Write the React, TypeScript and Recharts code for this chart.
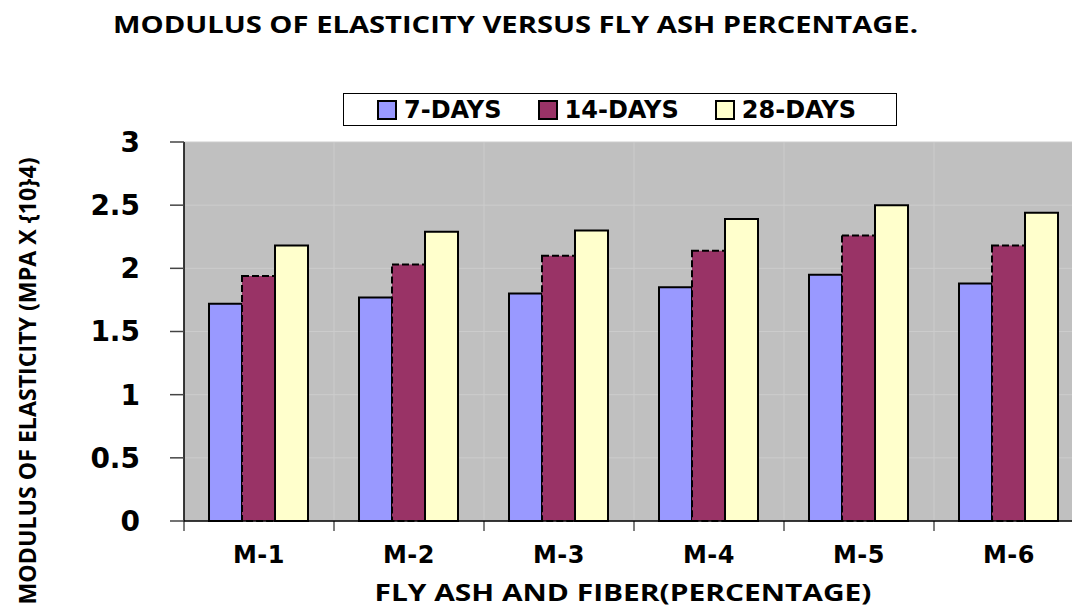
import React from 'react';
import { BarChart, Bar, XAxis, YAxis, CartesianGrid } from 'recharts';

const categories = ['M-1', 'M-2', 'M-3', 'M-4', 'M-5', 'M-6'];
const days7 = [1.72, 1.77, 1.8, 1.85, 1.95, 1.88];
const days14 = [1.94, 2.03, 2.1, 2.14, 2.26, 2.18];
const days28 = [2.18, 2.29, 2.3, 2.39, 2.5, 2.44];
const seriesNames = ['7-DAYS', '14-DAYS', '28-DAYS'];
const yTicks = [0, 0.5, 1, 1.5, 2, 2.5, 3];

const seriesColors = ['#9999ff', '#993366', '#ffffcc'];

const data = categories.map((name, i) => ({
  name,
  d7: days7[i],
  d14: days14[i],
  d28: days28[i],
}));

const CHART_W = 1100;
const PLOT_W = 900;
const BAND = PLOT_W / categories.length;

const labelFont = "'Open Sans', 'Lato', sans-serif";
const tickFont = "'DejaVu Sans', Verdana, sans-serif";

function XTick(props: any) {
  const { x, y, payload, index } = props;
  return (
    <g>
      <line x1={x - BAND / 2} x2={x - BAND / 2} y1={y} y2={y + 10} stroke="#000" strokeWidth={1} />
      {index === categories.length - 1 && (
        <line x1={x + BAND / 2} x2={x + BAND / 2} y1={y} y2={y + 10} stroke="#000" strokeWidth={1} />
      )}
      <text x={x} y={y + 42} textAnchor="middle" fontFamily={tickFont} fontWeight={700} fontSize={24} letterSpacing={0.5} fill="#000">
        {payload.value}
      </text>
    </g>
  );
}

function Legend() {
  return (
    <div
      style={{
        position: 'absolute',
        left: 343,
        top: 93,
        width: 554,
        height: 33,
        border: '1px solid #000',
        background: '#fff',
        display: 'flex',
        alignItems: 'center',
        paddingLeft: 33,
        boxSizing: 'border-box',
        fontFamily: tickFont,
        fontWeight: 700,
        fontSize: 24,
        whiteSpace: 'nowrap',
      }}
    >
      {seriesNames.map((s, i) => (
        <div key={s} style={{ display: 'flex', alignItems: 'center', marginRight: 36, flexShrink: 0 }}>
          <div style={{ width: 16, height: 16, border: '2px solid #000', background: seriesColors[i], marginRight: 7 }} />
          <span>{s}</span>
        </div>
      ))}
    </div>
  );
}

export default function App() {
  return (
    <div style={{ position: 'absolute', left: 0, top: 0, width: 1072, height: 609, overflow: 'hidden', background: '#fff' }}>
      <svg width={1072} height={60} style={{ position: 'absolute', left: 0, top: 0 }}>
        <text x={113} y={33} textLength={805} lengthAdjust="spacingAndGlyphs" fontFamily={labelFont} fontWeight={700} fontSize={23} fill="#000">
          MODULUS OF ELASTICITY VERSUS FLY ASH PERCENTAGE.
        </text>
      </svg>
      <div style={{ position: 'absolute', left: 0, top: 0 }}>
        <BarChart
          width={CHART_W}
          height={609}
          data={data}
          margin={{ top: 142, right: 16, bottom: 0, left: 0 }}
          barCategoryGap="16.67%"
          barGap={0}
        >
          <CartesianGrid
            fill="#c0c0c0"
            fillOpacity={1}
            horizontal={{ stroke: '#444', strokeWidth: 2 }}
            vertical={{ stroke: '#000', strokeWidth: 1.5 }}
            verticalCoordinatesGenerator={({ offset }: any) =>
              categories.map((_, i) => offset.left + (i * offset.width) / categories.length).concat(offset.left + offset.width)
            }
          />
          <XAxis
            dataKey="name"
            height={88}
            axisLine={{ stroke: '#000', strokeWidth: 1.5 }}
            tickLine={false}
            tickSize={0}
            tickMargin={0}
            tick={<XTick />}
            interval={0}
            label={{
              content: () => (
                <text x={623} y={601} textAnchor="middle" textLength={497} lengthAdjust="spacingAndGlyphs" fontFamily={labelFont} fontWeight={700} fontSize={23} fill="#000">
                  FLY ASH AND FIBER(PERCENTAGE)
                </text>
              ),
            }}
          />
          <YAxis
            width={184}
            domain={[0, 3]}
            ticks={yTicks}
            interval={0}
            axisLine={{ stroke: '#000', strokeWidth: 1.5 }}
            tickLine={{ stroke: '#444', strokeWidth: 1.5 }}
            tickSize={14}
            tickMargin={30}
            tick={{ fontFamily: tickFont, fontWeight: 700, fontSize: 28, fill: '#000' }}
            label={{
              content: () => (
                <text
                  transform="translate(36, 381) rotate(-90)"
                  textAnchor="middle"
                  textLength={447}
                  lengthAdjust="spacingAndGlyphs"
                  fontFamily={labelFont}
                  fontWeight={700}
                  fontSize={24}
                  fill="#000"
                >
                  MODULUS OF ELASTICITY (MPA X {'{10}'}4)
                </text>
              ),
            }}
          />
          <Bar dataKey="d7" name={seriesNames[0]} fill={seriesColors[0]} stroke="#000" strokeWidth={2} isAnimationActive={false} />
          <Bar dataKey="d14" name={seriesNames[1]} fill={seriesColors[1]} stroke="#000" strokeWidth={2} strokeDasharray="7 3" isAnimationActive={false} />
          <Bar dataKey="d28" name={seriesNames[2]} fill={seriesColors[2]} stroke="#000" strokeWidth={2} isAnimationActive={false} />
        </BarChart>
      </div>
      <Legend />
    </div>
  );
}
